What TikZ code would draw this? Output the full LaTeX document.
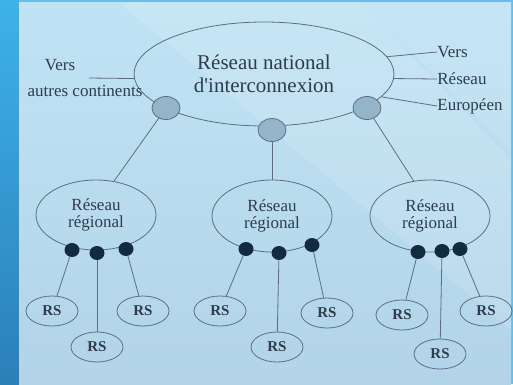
\documentclass[tikz,border=0pt]{standalone}
\usepackage{fontspec}
\setmainfont{Liberation Serif}[Ligatures=TeXOff]
\usepackage{tikz}
\usetikzlibrary{shapes.geometric}
\definecolor{panel}{rgb}{.75,.89,.96}
\definecolor{paneldark}{rgb}{.70,.83,.91}
\definecolor{striptop}{rgb}{.24,.70,.91}
\definecolor{stripbot}{rgb}{.17,.50,.72}
\definecolor{rim}{rgb}{.38,.75,.93}
\definecolor{ink}{rgb}{.18,.24,.30}
\definecolor{wire}{rgb}{.36,.43,.49}
\definecolor{gate}{rgb}{.58,.71,.79}
\definecolor{dotc}{rgb}{.07,.17,.25}

\tikzset{
  net/.style={draw=wire, ellipse, inner sep=0pt, text=ink, align=center},
  gw/.style={draw=wire, fill=gate, ellipse, minimum width=28pt, minimum height=23pt, inner sep=0pt},
  hub/.style={fill=dotc, ellipse, minimum width=15pt, minimum height=14pt, inner sep=0pt},
  rsnode/.style={draw=wire, ellipse, minimum width=52pt, minimum height=30pt, inner sep=0pt,
    text=ink, font=\fontsize{15}{15}\selectfont\bfseries},
  lbl/.style={text=ink, font=\fontsize{17}{19}\selectfont, inner sep=0pt},
  link/.style={wire, line width=0.8pt}
}

\begin{document}
\begin{tikzpicture}[x=1pt, y=-1pt, line width=0.8pt]
  % Background
  \useasboundingbox (0,0) rectangle (513,384);
  \fill[rim] (0,0) rectangle (513,384);
  \shade[top color=striptop, bottom color=stripbot] (0,0) rectangle (19,384);
  \shade[top color=panel, bottom color=paneldark] (19,2) rectangle (511,384);
  \fill[white, opacity=.12] (118,2) -- (360,2) -- (511,160) -- (511,330) -- cycle;
  \fill[white, opacity=.10] (360,2) -- (511,2) -- (511,150) -- cycle;

  % National network and gateways
  \node[net, minimum width=260pt, minimum height=104pt,
    font=\fontsize{21}{23}\selectfont] (national) at (264,74)
    {Réseau national\\d'interconnexion};
  \node[gw] (gwL) at (166,108) {};
  \node[gw] (gwM) at (272,130) {};
  \node[gw] (gwR) at (367,108) {};

  % Outside labels
  \node[lbl] (versL) at (60,65) {Vers};
  \node[lbl] (autres) at (85,91) {autres continents};
  \coordinate (tipL) at (89,78);
  \node[lbl, anchor=west] (vR1) at (437,52) {Vers};
  \node[lbl, anchor=west] (vR2) at (437,79) {Réseau};
  \node[lbl, anchor=west] (vR3) at (437,106) {Européen};
  \draw[link] (tipL) -- (national.182);
  \draw[link] (national.8) -- (vR1.west);
  \draw[link] (national.-2) -- (vR2.west);
  \draw[link] (national.-11) -- (vR3.west);

  % Regional networks
  \node[net, minimum width=120pt, minimum height=70pt, font=\fontsize{17}{17}\selectfont]
    (regL) at (96,215) {Réseau\\régional};
  \node[net, minimum width=120pt, minimum height=72pt, font=\fontsize{17}{17}\selectfont]
    (regM) at (272,216) {Réseau\\régional};
  \node[net, minimum width=120pt, minimum height=72pt, font=\fontsize{17}{17}\selectfont]
    (regR) at (430,216) {Réseau\\régional};
  \draw[link] (gwL) -- (regL.62);
  \draw[link] (gwM) -- (regM);
  \draw[link] (gwR) -- (regR.115);

  % Access points
  \node[hub] (dL1) at (72,250) {};
  \node[hub] (dL2) at (97,253) {};
  \node[hub] (dL3) at (126,249) {};
  \node[hub] (dM1) at (246,249) {};
  \node[hub] (dM2) at (279,253) {};
  \node[hub] (dM3) at (312,245) {};
  \node[hub] (dR1) at (418,252) {};
  \node[hub] (dR2) at (442,251) {};
  \node[hub] (dR3) at (460,249) {};

  % Local networks
  \node[rsnode] (rsL1) at (52,311) {RS};
  \node[rsnode] (rsL2) at (97,347) {RS};
  \node[rsnode] (rsL3) at (143,311) {RS};
  \node[rsnode] (rsM1) at (220,311) {RS};
  \node[rsnode] (rsM2) at (277,347) {RS};
  \node[rsnode] (rsM3) at (327,313) {RS};
  \node[rsnode] (rsR1) at (402,315) {RS};
  \node[rsnode] (rsR2) at (440,354) {RS};
  \node[rsnode] (rsR3) at (486,311) {RS};

  \draw[link] (dL1) -- (rsL1);
  \draw[link] (dL2) -- (rsL2);
  \draw[link] (dL3) -- (rsL3);
  \draw[link] (dM1) -- (rsM1);
  \draw[link] (dM2) -- (rsM2);
  \draw[link] (dM3) -- (rsM3);
  \draw[link] (dR1) -- (rsR1);
  \draw[link] (dR2) -- (rsR2);
  \draw[link] (dR3) -- (rsR3);
\end{tikzpicture}
\end{document}
